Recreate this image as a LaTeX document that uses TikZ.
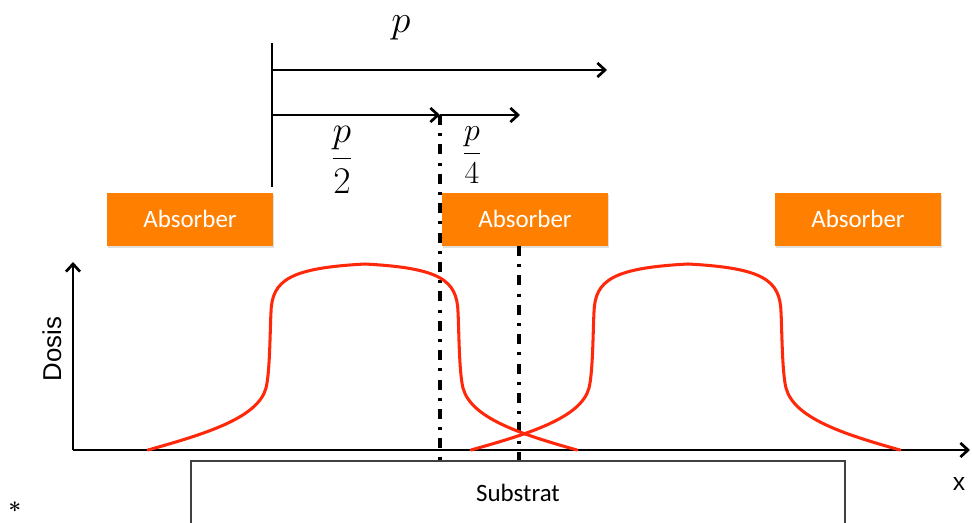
\documentclass[tikz,border=0pt]{standalone}
\usepackage{fontspec}
\usepackage{amsmath}
\usepackage{graphicx}
\newfontfamily\carl{Carlito}
\newfontfamily\arialf{Liberation Sans}
\usetikzlibrary{arrows.meta,shadows}
\definecolor{absorb}{RGB}{255,128,0}
\definecolor{dosered}{RGB}{255,40,10}
\tikzset{
  absbox/.style={fill=absorb, minimum width=166*0.03cm, minimum height=53*0.03cm, inner sep=0pt,
     text=white, font=\carl\fontsize{21.3}{25}\selectfont,
     drop shadow={shadow xshift=0.6pt, shadow yshift=-1.8pt, opacity=0.25}},
  blk/.style={line width=2.5pt, black},
  arr/.style={blk, -{Straight Barb[length=6.5pt,width=12pt,line width=2.3pt]}},
  dashdot/.style={line width=2.6pt, dash pattern=on 8.5pt off 7pt on 2.6pt off 7pt},
  dose/.style={line width=2.6pt, dosered, line cap=round},
  mathlbl/.style={font=\fontsize{20}{24}\selectfont, inner sep=0pt},
}
\begin{document}
\begin{tikzpicture}[x=0.03cm,y=-0.03cm]
\useasboundingbox (0,0) rectangle (972,522);
% absorbers
\node[absbox] (a1) at (190,219) {Absorber};
\node[absbox] (a2) at (525,219) {Absorber};
\node[absbox] (a3) at (858,219) {Absorber};
% substrate
\node[draw=black!75, line width=1pt, minimum width=654*0.03cm, minimum height=64*0.03cm, inner sep=0pt,
      font=\carl\fontsize{21.3}{25}\selectfont] (sub) at (518,493) {Substrat};
% axes
\coordinate (o) at (73,450);
\coordinate (ytop) at (73,262);
\coordinate (xend) at (970,450);
\draw[arr] (o) -- (ytop);
\draw[arr] (o) -- (xend);
\node[rotate=90, font=\arialf\fontsize{22}{26}\selectfont] (dosis) at (52,349) {Dosis};
\node[font=\arialf\fontsize{21}{25}\selectfont] (xl) at (959,484) {x};
\node[font=\bfseries\fontsize{19}{22}\selectfont, inner sep=0pt, anchor=base] (star) at (15,518) {*};
% period markers
\coordinate (v0) at (272,43);
\coordinate (v1) at (272,187);
\draw[blk] (v0) -- (v1);
\coordinate (s1) at (272,70);
\coordinate (e1) at (607,70);
\draw[arr] (s1) -- (e1);
\coordinate (s2) at (272,115);
\coordinate (m2) at (440,115);
\coordinate (e2) at (520,115);
\draw[arr] (s2) -- (m2);
\draw[arr] (m2) -- (e2);
\node[mathlbl] (p) at (401,28) {\scalebox{1.6}{$p$}};
\node[mathlbl] (p2) at (342,160) {\scalebox{1.55}{$\dfrac{p}{2}$}};
\node[mathlbl] (p4) at (472,155) {\scalebox{1.32}{$\dfrac{p}{4}$}};
% dash-dot lines
\coordinate (d1t) at (440,115);
\coordinate (d1b) at (440,460);
\coordinate (d2t) at (519,246);
\coordinate (d2b) at (519,460);
\draw[dashdot] (d1t) -- (d1b);
\draw[dashdot] (d2t) -- (d2b);
% dose curves
\foreach \s in {0,323}{
\begin{scope}[xshift=\s*0.03cm]
\draw[dose] (148,450) .. controls (205,434) and (258,418) .. (266,388)
  .. controls (270,372) and (270,330) .. (271,312)
  .. controls (272,280) and (290,268) .. (365,264)
  .. controls (440,268) and (457,280) .. (458,312)
  .. controls (459,330) and (459,372) .. (463,388)
  .. controls (471,418) and (520,434) .. (577,450);
\end{scope}}
\end{tikzpicture}
\end{document}
